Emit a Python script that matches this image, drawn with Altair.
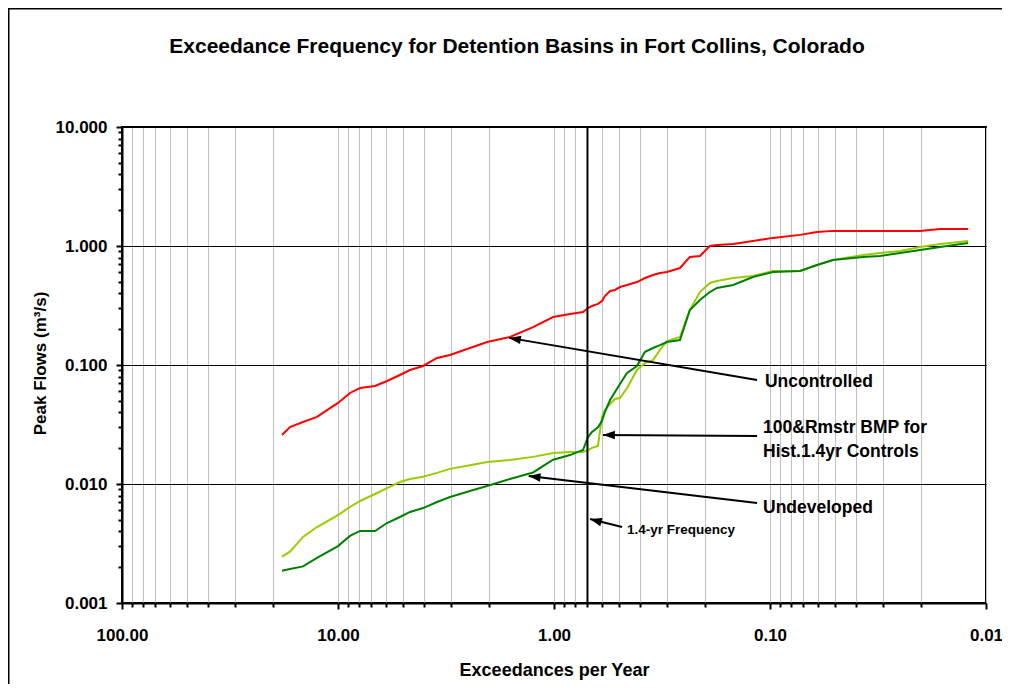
import altair as alt
import pandas as pd

# ---------------- data ----------------
freq = [18.17, 16.68, 14.52, 12.51, 10.0, 8.80, 7.91, 6.74, 5.93, 5.17, 4.64, 4.04,
        3.48, 3.03, 2.45, 2.04, 1.60, 1.25, 1.01, 0.843, 0.734, 0.696, 0.667, 0.626,
        0.600, 0.581, 0.550, 0.522, 0.495, 0.459, 0.413, 0.379, 0.348, 0.323, 0.300,
        0.261, 0.235, 0.211, 0.190, 0.176, 0.148, 0.120, 0.0969, 0.0726, 0.0606,
        0.0511, 0.0371, 0.0310, 0.0250, 0.0202, 0.0163, 0.0121]

uncontrolled = [0.0258, 0.0301, 0.0332, 0.0366, 0.0480, 0.0582, 0.0641, 0.0667, 0.0734,
                0.0824, 0.0908, 0.0981, 0.1145, 0.1213, 0.139, 0.156, 0.172, 0.208, 0.253,
                0.268, 0.279, 0.301, 0.313, 0.326, 0.345, 0.380, 0.419, 0.427, 0.452,
                0.470, 0.498, 0.538, 0.570, 0.593, 0.605, 0.653, 0.809, 0.824, 1.00, 1.02,
                1.04, 1.10, 1.17, 1.24, 1.31, 1.34, 1.34, 1.34, 1.34, 1.34, 1.39, 1.39]

bmp = [0.00245, 0.00270, 0.00359, 0.00435, 0.00548, 0.00641, 0.00720, 0.00824, 0.00925,
       0.0104, 0.0110, 0.0115, 0.0124, 0.0134, 0.0144, 0.0153, 0.0159, 0.0169, 0.0182,
       0.0186, 0.0186, 0.0193, 0.0201, 0.0209, 0.0366, 0.0419, 0.0470, 0.0518, 0.0528,
       0.0641, 0.0908, 0.104, 0.110, 0.134, 0.159, 0.172, 0.290, 0.410, 0.489, 0.508,
       0.538, 0.560, 0.617, 0.617, 0.692, 0.762, 0.840, 0.873, 0.908, 0.981, 1.04, 1.10]

undeveloped = [0.00187, 0.00193, 0.00203, 0.00239, 0.00301, 0.00366, 0.00403, 0.00403,
               0.00470, 0.00528, 0.00582, 0.00628, 0.00706, 0.00778, 0.00873, 0.00962,
               0.0110, 0.0125, 0.0160, 0.0175, 0.0193, 0.0248, 0.0274, 0.0300, 0.0338,
               0.0403, 0.0508, 0.0593, 0.0692, 0.0857, 0.0981, 0.129, 0.139, 0.147, 0.156,
               0.162, 0.290, 0.352, 0.410, 0.444, 0.470, 0.549, 0.605, 0.617, 0.692, 0.762,
               0.809, 0.824, 0.873, 0.925, 0.981, 1.06]

series_names = ["Uncontrolled", "100&Rmstr BMP", "Undeveloped"]
series_colors = ["#FF0000", "#99CC00", "#008000"]

freq_line = [0.70]  # 1.4-yr frequency

# annotation text and arrows (data coordinates)
ann_text = ["Uncontrolled", "100&Rmstr BMP for", "Hist.1.4yr Controls", "Undeveloped"]
ann_x = [0.1055, 0.1077, 0.1077, 0.1077]
ann_y = [0.0720, 0.0296, 0.0186, 0.00628]

arr_x_tail = [0.1148, 0.1148, 0.1148, 0.484]
arr_y_tail = [0.0748, 0.0253, 0.00692, 0.00435]
arr_x_tip = [1.615, 0.593, 1.31, 0.681]
arr_y_tip = [0.169, 0.0258, 0.01167, 0.00508]
arr_angle = [279.6, 270.4, 276.8, 285.8]

small_text = ["1.4-yr Frequency"]
small_x = [0.459]
small_y = [0.00410]

title_text = "Exceedance Frequency for Detention Basins in Fort Collins, Colorado"

x_ticks = [round(m * 10.0 ** k, 6) for k in range(-2, 2) for m in range(1, 10)] + [100.0]
y_ticks = [round(m * 10.0 ** k, 6) for k in range(-3, 1) for m in range(1, 10)] + [10.0]

# ---------------- chart ----------------
FONT = "Liberation Sans"
DEC = "abs(log(datum.value)/LN10 - round(log(datum.value)/LN10)) < 0.000001"

rows = []
for name, vals in zip(series_names, [uncontrolled, bmp, undeveloped]):
    for f, v in zip(freq, vals):
        rows.append({"x": f, "y": v, "series": name})
curves = pd.DataFrame(rows)

x_scale = alt.Scale(type="log", domain=[0.01, 100], reverse=True, nice=False)
y_scale = alt.Scale(type="log", domain=[0.001, 10], nice=False)

x_axis = alt.Axis(
    values=x_ticks, format=".2f", labelExpr=f"({DEC}) ? datum.label : ''",
    grid=True, gridColor="#C0C0C0", gridWidth=1,
    tickColor="black", tickWidth=2,
    tickSize={"condition": {"test": DEC, "value": 6}, "value": 4},
    domainColor="black", domainWidth=2,
    labelFont=FONT, labelFontSize=17, labelFontWeight="bold", labelColor="black",
    labelPadding=18, labelOverlap=False, labelFlush=False,
    title="Exceedances per Year", titleFont=FONT, titleFontSize=18,
    titleFontWeight="bold", titleColor="black", titleBaseline="alphabetic", titleY=72,
)
y_axis = alt.Axis(
    values=y_ticks, format=".3f", labelExpr=f"({DEC}) ? datum.label : ''",
    grid=True, gridColor="black", gridWidth=1,
    gridOpacity={"condition": {"test": DEC, "value": 1}, "value": 0},
    tickColor="black", tickWidth=2,
    tickSize={"condition": {"test": DEC, "value": 6}, "value": 4},
    domainColor="black", domainWidth=2,
    labelFont=FONT, labelFontSize=17, labelFontWeight="bold", labelColor="black",
    labelPadding=9, labelOverlap=False, labelFlush=False,
    title="Peak Flows (m³/s)", titleFont=FONT, titleFontSize=17, titleFontWeight="bold",
    titleColor="black", titleAngle=270, titleX=-82, titleY=236,
    titleAlign="center", titleBaseline="middle",
)

X = lambda f="x": alt.X(f"{f}:Q", scale=x_scale, axis=x_axis)
Y = lambda f="y": alt.Y(f"{f}:Q", scale=y_scale, axis=y_axis)

lines = alt.Chart(curves).mark_line(strokeWidth=2, interpolate="linear").encode(
    x=X(), y=Y(),
    color=alt.Color("series:N", scale=alt.Scale(domain=series_names, range=series_colors),
                    legend=None),
    order=alt.Order("x:Q", sort="descending"),
)

vline = alt.Chart(pd.DataFrame({"x": freq_line})).mark_rule(
    color="black", strokeWidth=2).encode(x=X())

arrows_df = pd.DataFrame({"x": arr_x_tail, "y": arr_y_tail, "x2": arr_x_tip,
                          "y2": arr_y_tip, "ang": arr_angle})
arrow_lines = alt.Chart(arrows_df).mark_rule(color="black", strokeWidth=2).encode(
    x=X(), y=Y(), x2="x2:Q", y2="y2:Q")
arrow_heads = alt.Chart(arrows_df).mark_point(
    shape="M0,0 L0.36,1 L-0.36,1 Z", filled=True, color="black", opacity=1,
    size=560, strokeWidth=0).encode(
    x=X("x2"), y=Y("y2"), angle=alt.Angle("ang:Q", scale=None))

labels = alt.Chart(pd.DataFrame({"x": ann_x, "y": ann_y, "t": ann_text})).mark_text(
    align="left", baseline="middle", font=FONT, fontSize=17.5, fontWeight="bold",
    color="black").encode(x=X(), y=Y(), text="t:N")

small = alt.Chart(pd.DataFrame({"x": small_x, "y": small_y, "t": small_text})).mark_text(
    align="left", baseline="middle", font=FONT, fontSize=13.5, fontWeight="bold",
    color="black").encode(x=X(), y=Y(), text="t:N")

title = alt.Chart(pd.DataFrame({"t": [title_text]})).mark_text(
    align="center", baseline="alphabetic", font=FONT, fontSize=21, fontWeight="bold",
    color="black").encode(x=alt.value(395), y=alt.value(-74), text="t:N")

frame_df = pd.DataFrame({"k": [0]})
frame_top = alt.Chart(frame_df).mark_rule(color="black", strokeWidth=2).encode(
    x=alt.value(-114), x2=alt.value(890), y=alt.value(-118.5), y2=alt.value(-118.5))
frame_left = alt.Chart(frame_df).mark_rule(color="black", strokeWidth=2).encode(
    x=alt.value(-113.5), x2=alt.value(-113.5), y=alt.value(-119), y2=alt.value(560))

chart = alt.layer(
    lines, vline, arrow_lines, arrow_heads, labels, small, title, frame_top, frame_left
).properties(
    width=864, height=476,
    autosize=alt.AutoSizeParams(type="none"),
    padding={"left": 114, "top": 119, "right": 16, "bottom": 81},
    background="white",
).configure_view(stroke="black", strokeWidth=2)

chart.save("out.html", embed_options={"renderer": "svg", "actions": False})
